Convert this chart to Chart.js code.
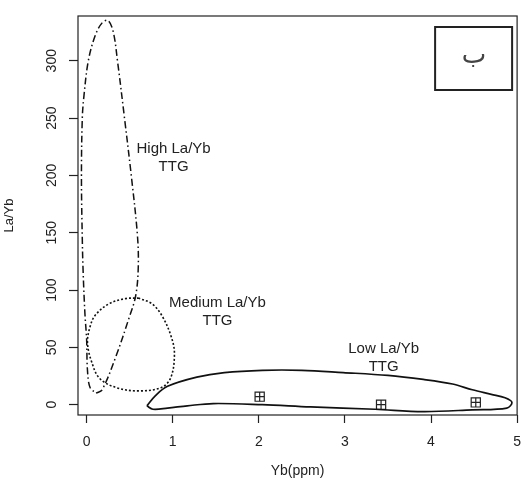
<!DOCTYPE html>
<html>
<head>
<meta charset="utf-8">
<script src="https://cdn.jsdelivr.net/npm/chart.js@4.4.1/dist/chart.umd.min.js"></script>
<style>
  html, body { margin: 0; padding: 0; background: #fff; }
  #wrap { width: 532px; height: 480px; }
</style>
</head>
<body>
<div id="wrap"><canvas id="myChart"></canvas></div>
<script>
// envelopes, Yb (ppm) vs La/Yb
const highYb   = [0.11, 0.18, 0.34, 0.49, 0.57, 0.60, 0.59, 0.52, 0.44, 0.36, 0.31, 0.25, 0.18, 0.10, 0.02, -0.03, -0.05, -0.06, -0.05, -0.04, -0.02, 0.00, 0.01, 0.04, 0.11];
const highLaYb = [10, 13, 42, 75, 95, 120, 148, 199, 250, 299, 325, 335, 333, 322, 300, 270, 250, 199, 144, 115, 80, 57, 30, 15, 10];

const medYb   = [0.60, 0.76, 0.88, 0.98, 1.02, 0.98, 0.87, 0.60, 0.34, 0.15, 0.06, 0.01, 0.04, 0.10, 0.26, 0.45, 0.60];
const medLaYb = [93, 88, 77, 60, 45, 24, 15, 12, 15, 23, 37, 54, 68, 78, 88, 92.5, 93];

const lowYb   = [0.70, 0.80, 0.94, 1.28, 1.60, 2.04, 2.50, 2.98, 3.50, 3.91, 4.25, 4.48, 4.70, 4.86, 4.94, 4.88, 4.48, 3.91, 3.35, 2.60, 2.04, 1.47, 1.17, 0.94, 0.77, 0.70];
const lowLaYb = [-1, 8, 16, 24, 28, 30, 30, 28, 25.5, 22, 18, 13, 9, 6, 2, -3, -4.5, -6, -4, -2, 0, 1, -1, -3, -4, -1];

// samples
const sampleYb   = [2.01, 3.42, 4.52];
const sampleLaYb = [7, 0, 2];

// field names
const fieldNames = [['High La/Yb', 'TTG'], ['Medium La/Yb', 'TTG'], ['Low La/Yb', 'TTG']];
const fieldYb    = [1.01, 1.52, 3.45];
const fieldLaYb  = [223, 89, 49];

const xTicks = [0, 1, 2, 3, 4, 5];
const yTicks = [0, 50, 100, 150, 200, 250, 300];

const pts = (xs, ys) => xs.map((x, i) => ({ x: x, y: ys[i] }));

const FONT = "'Liberation Sans', Arial, sans-serif";

const frame = {
  id: 'frame',
  afterDatasetsDraw(chart) {
    const { ctx, chartArea: a, scales: { x, y } } = chart;
    ctx.save();
    ctx.strokeStyle = '#222';
    ctx.lineWidth = 1.2;
    ctx.strokeRect(a.left, a.top, a.right - a.left, a.bottom - a.top);

    // field labels
    ctx.fillStyle = '#222';
    ctx.font = '15px ' + FONT;
    ctx.textAlign = 'center';
    ctx.textBaseline = 'middle';
    fieldNames.forEach((lines, i) => {
      const px = x.getPixelForValue(fieldYb[i]);
      const py = y.getPixelForValue(fieldLaYb[i]);
      lines.forEach((t, j) => ctx.fillText(t, px, py + j * 18));
    });

    // panel letter box
    const bx = a.right - 82, by = a.top + 11;
    ctx.lineWidth = 2;
    ctx.strokeRect(bx, by, 77, 63);
    ctx.font = "26px 'DejaVu Sans', sans-serif";
    ctx.fillStyle = '#444';
    ctx.fillText('ب', bx + 39, by + 29);
    ctx.restore();
  }
};

const line = (data, dash, width) => ({
  type: 'scatter',
  data: data,
  showLine: true,
  tension: 0.35,
  borderColor: '#111',
  borderWidth: width,
  borderDash: dash,
  pointRadius: 0,
  fill: false
});

const config = {
  type: 'scatter',
  data: {
    datasets: [
      line(pts(highYb, highLaYb), [7, 3, 1.5, 3], 1.5),
      line(pts(medYb, medLaYb), [2, 2], 1.6),
      line(pts(lowYb, lowLaYb), [], 1.7),
      {
        data: pts(sampleYb, sampleLaYb),
        pointStyle: 'rect',
        pointRadius: 6.5,
        backgroundColor: 'rgba(0,0,0,0)',
        borderColor: '#222',
        borderWidth: 1.2
      },
      {
        data: pts(sampleYb, sampleLaYb),
        pointStyle: 'cross',
        pointRadius: 4.6,
        borderColor: '#222',
        borderWidth: 1.2
      }
    ]
  },
  options: {
    responsive: true,
    maintainAspectRatio: false,
    animation: false,
    events: [],
    layout: { padding: { top: 16, right: 3, left: 0, bottom: 0 } },
    plugins: { legend: { display: false }, tooltip: { enabled: false } },
    scales: {
      x: {
        type: 'linear',
        min: -0.1,
        max: 5.0,
        afterBuildTicks: s => { s.ticks = xTicks.map(v => ({ value: v })); },
        afterFit: s => { s.height = 65; },
        border: { display: false },
        grid: { drawOnChartArea: false, drawTicks: true, tickLength: 8, tickColor: '#222', tickWidth: 1.2 },
        ticks: { color: '#222', font: { family: FONT, size: 14 }, padding: 11, maxRotation: 0 },
        title: { display: true, text: 'Yb(ppm)', color: '#222', font: { family: FONT, size: 14 }, padding: { bottom: 0 } }
      },
      y: {
        type: 'linear',
        min: -9,
        max: 339,
        afterBuildTicks: s => { s.ticks = yTicks.map(v => ({ value: v })); },
        afterFit: s => { s.width = 78; },
        border: { display: false },
        grid: { drawOnChartArea: false, drawTicks: true, tickLength: 9, tickColor: '#222', tickWidth: 1.2 },
        ticks: { color: '#222', font: { family: FONT, size: 14 }, padding: 5, minRotation: 90, maxRotation: 90, crossAlign: 'center' },
        title: { display: true, text: 'La/Yb', color: '#222', font: { family: FONT, size: 13 }, padding: { top: 2 } }
      }
    }
  },
  plugins: [frame]
};

const myChart = new Chart(document.getElementById('myChart'), config);
</script>
</body>
</html>
